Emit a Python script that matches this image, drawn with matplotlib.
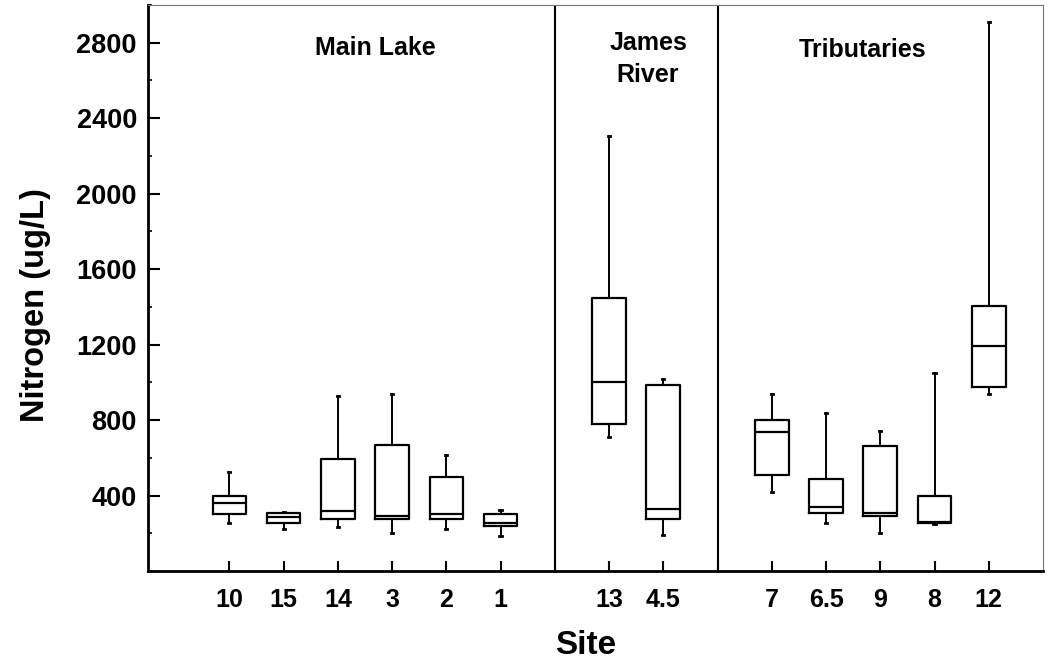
import matplotlib
matplotlib.use("Agg")
import matplotlib.pyplot as plt
from matplotlib.ticker import MultipleLocator

plt.rcParams['font.family'] = ['Liberation Sans', 'DejaVu Sans']
plt.rcParams['font.weight'] = 'bold'

# Sites and box statistics (ug/L)
sites = ['10', '15', '14', '3', '2', '1', '13', '4.5', '7', '6.5', '9', '8', '12']
positions = [1, 2, 3, 4, 5, 6, 8, 9, 11, 12, 13, 14, 15]
whislo = [252, 224, 234, 202, 224, 185, 710, 190, 421, 252, 202, 250, 939]
q1 = [301, 255, 273, 273, 273, 238, 780, 273, 507, 310, 292, 255, 977]
med = [361, 285, 319, 291, 303, 257, 1002, 331, 736, 340, 310, 262, 1190]
q3 = [398, 306, 592, 666, 497, 303, 1446, 986, 802, 490, 664, 395, 1405]
whishi = [525, 313, 930, 939, 613, 322, 2304, 1020, 939, 840, 741, 1051, 2908]

groups = ['Main Lake', 'James\nRiver', 'Tributaries']
group_x = [3.7, 8.72, 12.67]
group_y = [2774, 2713, 2761]
dividers = [7, 10]

fig = plt.figure(figsize=(10.49, 6.65), dpi=100)
ax = fig.add_axes([148 / 1049, 94 / 665, 895 / 1049, 566 / 665])

stats = []
for i in range(len(sites)):
    stats.append(dict(label=sites[i], whislo=whislo[i], q1=q1[i], med=med[i],
                      q3=q3[i], whishi=whishi[i], fliers=[]))

lw = 1.6
ax.bxp(stats, positions=positions, widths=0.62, capwidths=0.04,
       showfliers=False,
       boxprops=dict(color='black', linewidth=lw),
       medianprops=dict(color='black', linewidth=lw),
       whiskerprops=dict(color='black', linewidth=1.4),
       capprops=dict(color='black', linewidth=2))

for d in dividers:
    ax.axvline(d, color='black', linewidth=1.5, zorder=0)

for name, gx, gy in zip(groups, group_x, group_y):
    ax.text(gx, gy, name, ha='center', va='center', fontsize=18,
            fontweight='bold', linespacing=1.45)

ax.set_xlim(-0.5, 16)
ax.set_ylim(0, 3000)

ax.set_xticks(range(1, 16))
lab = {p: s for p, s in zip(positions, sites)}
ax.set_xticklabels([lab.get(p, '') for p in range(1, 16)])
ax.yaxis.set_major_locator(MultipleLocator(400))
ax.yaxis.set_minor_locator(MultipleLocator(200))
ax.set_yticks([400, 800, 1200, 1600, 2000, 2400, 2800])

ax.tick_params(axis='x', direction='in', length=7, width=1.5, pad=12,
               labelsize=18)
ax.tick_params(axis='y', which='major', direction='in', length=8.5, width=1.5,
               pad=8, labelsize=19.5)
ax.tick_params(axis='y', which='minor', direction='in', length=3, width=1.2)
for t in ax.get_xticklabels() + ax.get_yticklabels():
    t.set_fontweight('bold')

for s in ['left', 'bottom']:
    ax.spines[s].set_linewidth(2)
    ax.spines[s].set_color('black')
for s in ['top', 'right']:
    ax.spines[s].set_linewidth(0.8)
    ax.spines[s].set_color('#777777')

fig.text(36 / 1049, 1 - 305 / 665, 'Nitrogen (ug/L)', rotation=90,
         ha='center', va='center', fontsize=23.5, fontweight='bold')
fig.text(585.5 / 1049, 1 - 645 / 665, 'Site', ha='center', va='center',
         fontsize=24, fontweight='bold')

fig.savefig('out.png', dpi=100)
